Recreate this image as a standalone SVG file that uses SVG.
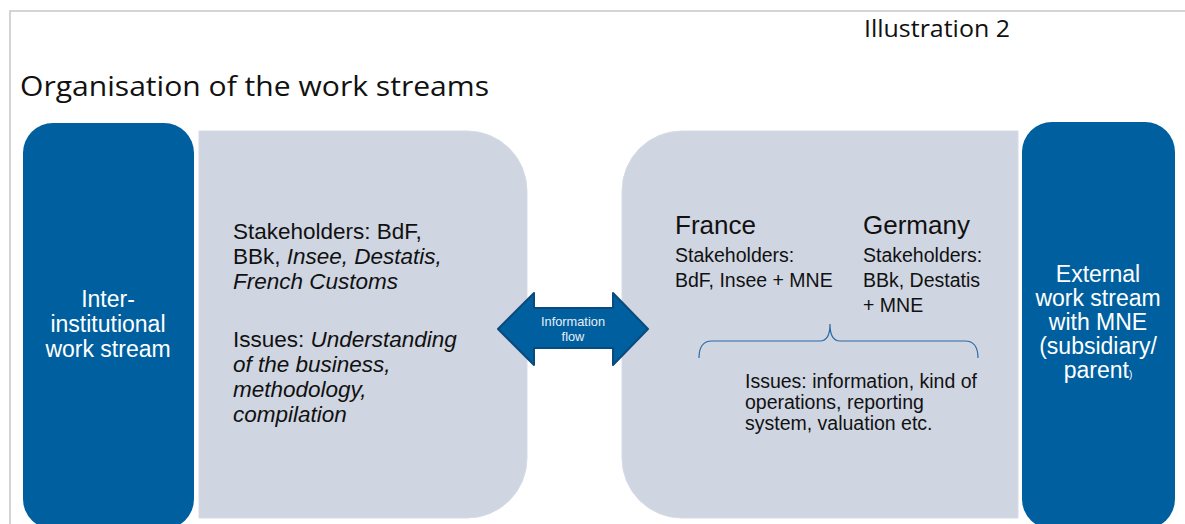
<svg xmlns="http://www.w3.org/2000/svg" width="1185" height="524" viewBox="0 0 1185 524">
<defs>
<style>
.frame{fill:none;stroke:#c8c8c8;stroke-width:1.5}
.blue{fill:#00609f}
.panel{fill:#cfd5e1;stroke:#d6dbe6;stroke-width:1}
.head{font-family:"Open Sans","Noto Sans","DejaVu Sans",sans-serif;fill:#111}
.w{font-family:"Liberation Sans",Arial,sans-serif;fill:#ffffff;font-size:23px;text-anchor:middle}
.t{font-family:"Liberation Sans",Arial,sans-serif;fill:#111;font-size:22.5px}
.s{font-family:"Liberation Sans",Arial,sans-serif;fill:#111;font-size:19.5px}
.c{font-family:"Liberation Sans",Arial,sans-serif;fill:#111;font-size:26px}
.i{font-style:italic}
.aw{font-family:"Liberation Sans",Arial,sans-serif;fill:#e8eef6;font-size:12.8px;text-anchor:middle}
</style>
</defs>
<rect width="1185" height="524" fill="#ffffff"/>
<path class="frame" d="M10,524 V11 H1185"/>
<text class="head" x="864" y="37" font-size="23" textLength="146" lengthAdjust="spacingAndGlyphs">Illustration 2</text>
<text class="head" x="20" y="96" font-size="28" textLength="469" lengthAdjust="spacingAndGlyphs">Organisation of the work streams</text>

<g id="left-stream">
<rect class="blue" x="23" y="123" width="171" height="406" rx="30" ry="30"/>
<text class="w" x="108" y="307">Inter-</text>
<text class="w" x="108" y="332">institutional</text>
<text class="w" x="108" y="357">work stream</text>
</g>

<g id="left-panel">
<path class="panel" d="M199,131 H467 A60,60 0 0 1 527,191 V458 A60,60 0 0 1 467,518 H199 Z"/>
<text class="t" x="233" y="239">Stakeholders: BdF,</text>
<text class="t" x="233" y="264">BBk, <tspan class="i">Insee, Destatis,</tspan></text>
<text class="t i" x="233" y="289">French Customs</text>
<text class="t" x="233" y="347">Issues: <tspan class="i">Understanding</tspan></text>
<text class="t i" x="233" y="372">of the business,</text>
<text class="t i" x="233" y="397">methodology,</text>
<text class="t i" x="233" y="422">compilation</text>
</g>

<g id="right-panel">
<path class="panel" d="M682,131 H1018 V518 H682 A60,60 0 0 1 622,458 V191 A60,60 0 0 1 682,131 Z"/>
<text class="c" x="675" y="234">France</text>
<text class="s" x="675" y="262">Stakeholders:</text>
<text class="s" x="675" y="287">BdF, Insee + MNE</text>
<text class="c" x="863" y="234">Germany</text>
<text class="s" x="863" y="262">Stakeholders:</text>
<text class="s" x="863" y="287">BBk, Destatis</text>
<text class="s" x="863" y="312">+ MNE</text>
<text class="s" x="745" y="388">Issues: information, kind of</text>
<text class="s" x="745" y="409">operations, reporting</text>
<text class="s" x="745" y="430">system, valuation etc.</text>
</g>

<g id="right-stream">
<rect class="blue" x="1022" y="122" width="153" height="407" rx="30" ry="30"/>
<text class="w" x="1098" y="282">External</text>
<text class="w" x="1098" y="306">work stream</text>
<text class="w" x="1098" y="330">with MNE</text>
<text class="w" x="1098" y="354">(subsidiary/</text>
<text class="w" x="1098" y="378">parent<tspan font-size="10">)</tspan></text>
</g>

<g id="connectors">
<g id="info-flow">
<polygon points="498,329 534,293 534,308 613,308 613,293 648,329 613,365 613,348 534,348 534,365" fill="#00609f" stroke="#0a4a7c" stroke-width="2" stroke-linejoin="round"/>
<text class="aw" x="573" y="326">Information</text>
<text class="aw" x="573" y="341">flow</text>
</g>
<path d="M699,358 Q699,341 712,341 H820 Q830,341 830,324 Q830,341 840,341 H965 Q978,341 978,358" fill="none" stroke="#2a6aa6" stroke-width="1.2"/>
</g>
</svg>
